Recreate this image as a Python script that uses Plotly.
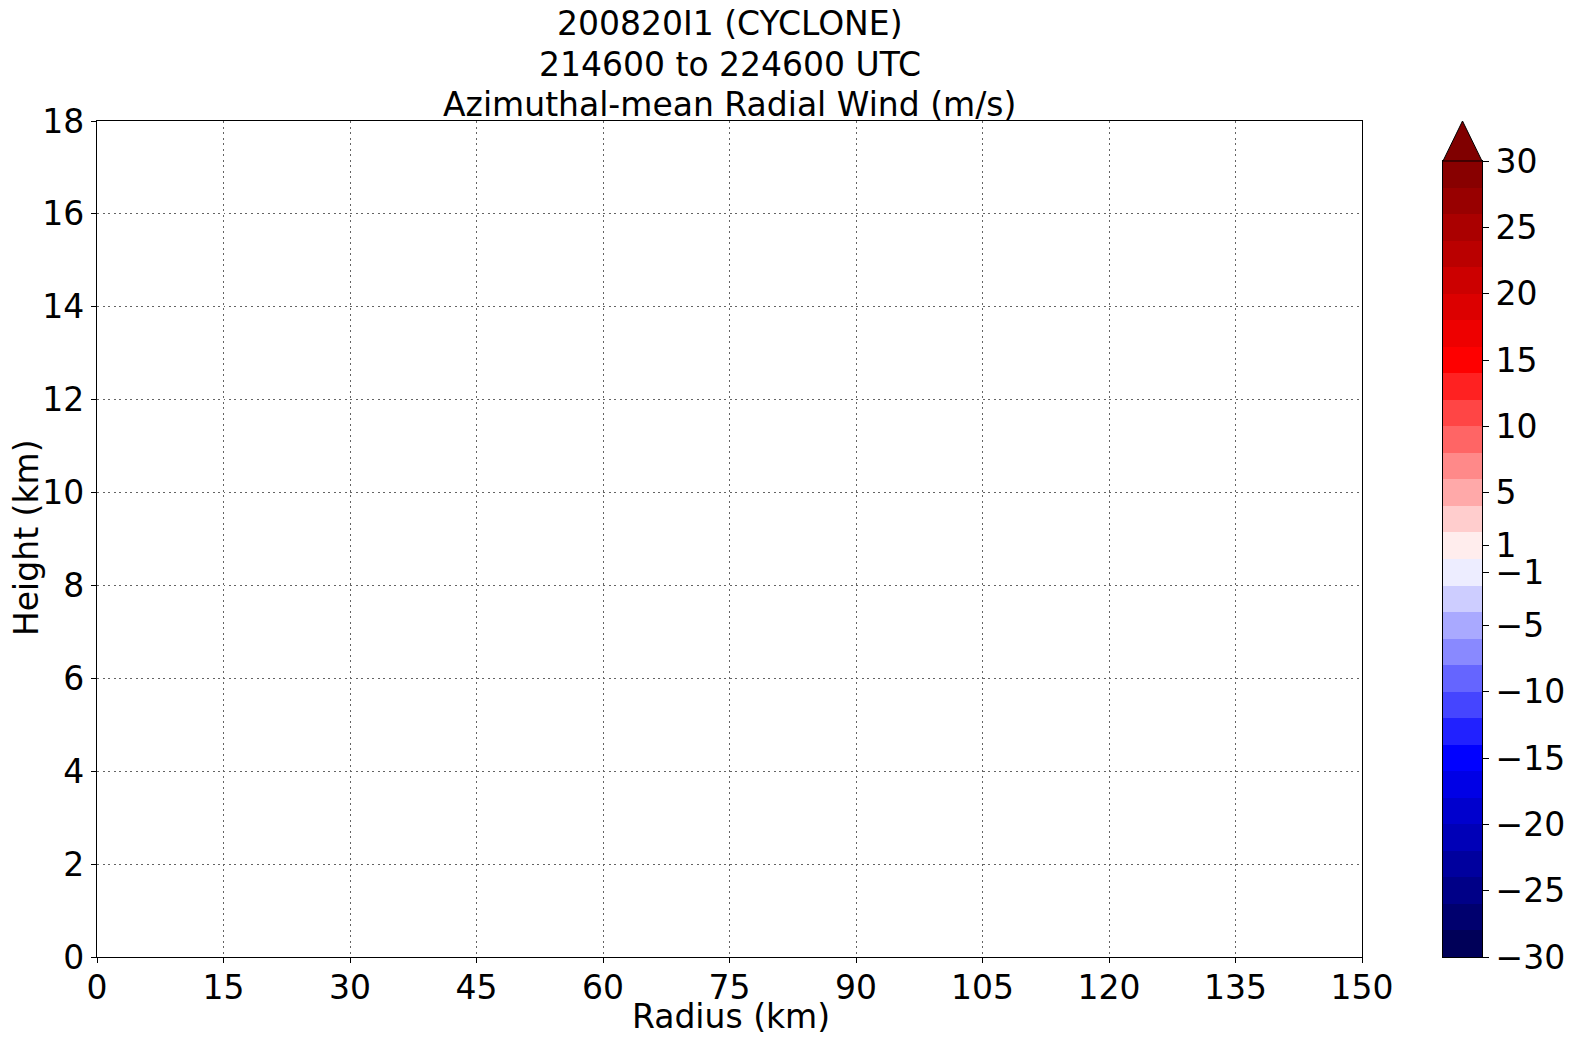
import plotly.graph_objects as go

# ---- data -------------------------------------------------------------
title_lines = ["200820I1 (CYCLONE)", "214600 to 224600 UTC", "Azimuthal-mean Radial Wind (m/s)"]
x_title = "Radius (km)"
y_title = "Height (km)"
radius_km = []          # no valid data in this panel
height_km = []
radial_wind = []
levels = list(range(-30, 31, 2))                     # contour levels (m/s)
cbar_ticks = [-30, -25, -20, -15, -10, -5, -1, 1, 5, 10, 15, 20, 25, 30]
x_ticks = [0, 15, 30, 45, 60, 75, 90, 105, 120, 135, 150]
y_ticks = [0, 2, 4, 6, 8, 10, 12, 14, 16, 18]

# ---- seismic colormap (matplotlib definition, 256-entry LUT) ----------
seis = [(0.0, (0.0, 0.0, 0.3)), (0.25, (0.0, 0.0, 1.0)), (0.5, (1.0, 1.0, 1.0)),
        (0.75, (1.0, 0.0, 0.0)), (1.0, (0.5, 0.0, 0.0))]


def seismic(v):
    i = min(int(v * 256), 255)
    x = i / 255
    for (x0, c0), (x1, c1) in zip(seis[:-1], seis[1:]):
        if x0 <= x <= x1:
            t = (x - x0) / (x1 - x0)
            c = [c0[k] + t * (c1[k] - c0[k]) for k in range(3)]
            return "rgb(%d,%d,%d)" % tuple(int(round(255 * ch)) for ch in c)
    return "rgb(0,0,0)"


vmin, vmax = levels[0], levels[-1]
band_lo = levels[:-1]
band_h = [hi - lo for lo, hi in zip(levels[:-1], levels[1:])]
band_col = [seismic(((lo + hi) / 2 - vmin) / (vmax - vmin)) for lo, hi in zip(levels[:-1], levels[1:])]
over_color = seismic(1.0)

# ---- geometry (page pixels; body has an 8px margin) -------------------
OFF = 8
W, H = 1574 - OFF, 1045 - OFF
L, R, T, B = 97 - OFF, 1362 - OFF, 121 - OFF, 957 - OFF
CB_L, CB_R, CB_T, CB_TIP = 1443 - OFF, 1482 - OFF, 161 - OFF, 121 - OFF
pw, ph = CB_R - L, B - T        # paper area spans main panel + colorbar


def px(x):
    return (x - L) / pw


def py(y):
    return (B - y) / ph


font = "DejaVu Sans"
fs = 33
tf = dict(family=font, size=fs, color="black")

fig = go.Figure()
# main (empty) panel
fig.add_trace(go.Scatter(x=radius_km, y=height_km, mode="markers", showlegend=False,
                         hoverinfo="skip", xaxis="x", yaxis="y"))
# colorbar bands
fig.add_trace(go.Bar(x=[0] * len(band_lo), y=band_h, base=band_lo, width=1,
                     marker=dict(color=band_col, line=dict(width=0)),
                     showlegend=False, hoverinfo="skip", xaxis="x2", yaxis="y2"))

axis_common = dict(
    showline=True, linecolor="black", linewidth=1.4, mirror=True,
    ticks="outside", ticklen=5, tickcolor="black", tickwidth=1.2,
    showgrid=True, gridcolor="rgb(100,100,100)", gridwidth=1, griddash="2px,3.5px",
    zeroline=False, tickfont=tf,
)
fig.update_layout(
    xaxis=dict(range=[0, 150], tickvals=x_ticks, domain=[0, px(R)], anchor="y",
               ticklabelstandoff=-4, **axis_common),
    yaxis=dict(range=[0, 18], tickvals=y_ticks, domain=[0, 1], anchor="x", **axis_common),
    xaxis2=dict(range=[-0.5, 0.5], domain=[px(CB_L), 1], anchor="y2",
                showticklabels=False, ticks="", showgrid=False, zeroline=False,
                showline=True, linecolor="black", linewidth=1, mirror=True),
    yaxis2=dict(range=[vmin, vmax], domain=[0, py(CB_T)], anchor="x2", side="right",
                tickvals=cbar_ticks, ticks="outside", ticklen=6, tickcolor="black", tickwidth=1.2,
                showgrid=False, zeroline=False, tickfont=tf,
                showline=True, linecolor="black", linewidth=1, mirror=True),
    barmode="overlay", bargap=0,
)

# extend-max triangle on top of the colorbar
fig.add_shape(type="path", xref="paper", yref="paper",
              path="M %f %f L %f %f L %f %f Z" % (px(CB_L), py(CB_T), px((CB_L + CB_R) / 2), py(CB_TIP),
                                                 px(CB_R), py(CB_T)),
              fillcolor=over_color, line=dict(color="black", width=1))

# title lines (centred over the main panel)
for txt, yc in zip(title_lines, [23, 64, 104]):
    fig.add_annotation(text=txt, xref="paper", yref="paper", x=px((L + R) / 2), y=py(yc - OFF),
                       xanchor="center", yanchor="middle", showarrow=False, font=tf)
fig.add_annotation(text=x_title, xref="paper", yref="paper", x=px(731 - OFF), y=py(1016 - OFF),
                   xanchor="center", yanchor="middle", showarrow=False, font=tf)
fig.add_annotation(text=y_title, xref="paper", yref="paper", x=px(26 - OFF), y=py(538 - OFF),
                   xanchor="center", yanchor="middle", showarrow=False, textangle=-90, font=tf)

fig.update_layout(
    width=W, height=H,
    margin=dict(l=L, r=W - CB_R, t=T, b=H - B, autoexpand=False),
    paper_bgcolor="white", plot_bgcolor="white",
    showlegend=False,
)
fig.write_html("out.html")
